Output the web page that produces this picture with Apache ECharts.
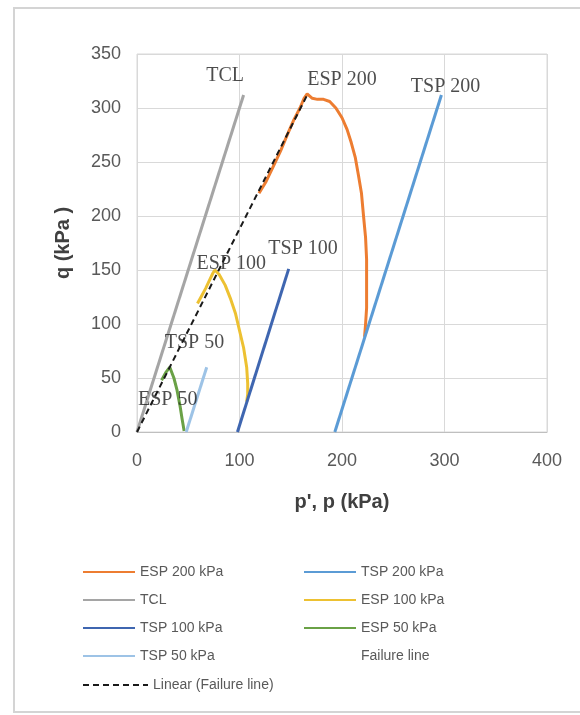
<!DOCTYPE html>
<html>
<head>
<meta charset="utf-8">
<script src="https://cdn.jsdelivr.net/npm/echarts@6/dist/echarts.min.js"></script>
<style>html,body{margin:0;padding:0;background:#fff;}#c{width:580px;height:715px;}</style>
</head>
<body>
<div id="c"></div>
<script>
// ---- data ----
var esp200 = [[119,221],[126,232],[133,246],[140,260],[147,276],[153,289],[159,300],[163,309],[166,313],[171,309],[176,308],[182,308],[188,306],[194,300],[200,291],[205,280],[209,268],[213,254],[216,238],[219,221],[221,200],[223,180],[224,160],[224,135],[224,115],[223,100],[222,88]];
var tsp200 = [[193,0],[297,312]];
var tcl = [[0,0],[104,312]];
var esp100 = [[59,119],[63,126],[67,133],[71,141],[74,147],[76,150],[80,146],[86,136],[91,124],[96,110],[100,94],[104,78],[107,60],[108,45],[108,35],[107,28]];
var tsp100 = [[98,0],[148,151]];
var esp50 = [[24,48],[28,55],[32,60],[36,50],[39,39],[42,24],[44,12],[46,1]];
var tsp50 = [[48,0],[68,60]];
var failurePts = [[32,60],[76,149],[166,313]];
var failureTrend = [[0,0],[166,312]];
var labelNames = ['TCL','ESP 200','TSP 200','TSP 100','ESP 100','TSP 50','ESP 50'];
var labelX = [86, 200, 301, 162, 92, 56, 30];
var labelY = [330, 326, 320, 170, 156, 83, 30];
var xTicks = {min:0, max:400, interval:100};
var yTicks = {min:0, max:350, interval:50};

var labelData = labelNames.map(function(n,i){return {name:n, value:[labelX[i], labelY[i]]};});

function lineSeries(name, data, color, width, type){
  return {name:name, type:'line', data:data, symbol:'none', smooth:false,
    lineStyle:{color:color, width:width, type:type||'solid'}, itemStyle:{color:color},
    emphasis:{disabled:true}, z: 3};
}

var chart = echarts.init(document.getElementById('c'));
var legendText = {fontFamily:'Liberation Sans', fontSize:14, color:'#595959', lineHeight:14};
var legendCommon = {orient:'vertical', itemWidth:52, itemHeight:14, itemGap:14, selectedMode:false,
  itemStyle:{opacity:0}, textStyle:legendText, padding:0};
chart.setOption({
  animation:false,
  backgroundColor:'#ffffff',
  graphic:[{type:'rect', shape:{x:14, y:8, width:570, height:704}, style:{fill:'none', stroke:'#d4d4d4', lineWidth:2}, silent:true}],
  grid:{left:137, right:33, top:54, bottom:283, show:true, borderColor:'#d9d9d9', borderWidth:1},
  xAxis:{type:'value', min:xTicks.min, max:xTicks.max, interval:xTicks.interval,
    name:"p', p (kPa)", nameLocation:'middle', nameGap:60,
    nameTextStyle:{fontFamily:'Liberation Sans', fontWeight:'bold', fontSize:20, color:'#404040'},
    axisLine:{lineStyle:{color:'#bfbfbf'}}, axisTick:{show:false},
    axisLabel:{fontFamily:'Liberation Sans', fontSize:18, color:'#595959', margin:20},
    splitLine:{lineStyle:{color:'#d9d9d9'}}},
  yAxis:{type:'value', min:yTicks.min, max:yTicks.max, interval:yTicks.interval,
    name:'q (kPa )', nameLocation:'middle', nameGap:64, nameRotate:90,
    nameTextStyle:{fontFamily:'Liberation Sans', fontWeight:'bold', fontSize:20, color:'#404040'},
    axisLine:{show:false}, axisTick:{show:false},
    axisLabel:{fontFamily:'Liberation Sans', fontSize:18, color:'#595959', margin:16},
    splitLine:{lineStyle:{color:'#d9d9d9'}}},
  legend:[
    Object.assign({}, legendCommon, {left:82, top:565,
      data:['ESP 200 kPa','TCL','TSP 100 kPa','TSP 50 kPa']}),
    Object.assign({}, legendCommon, {left:303, top:565,
      data:['TSP 200 kPa','ESP 100 kPa','ESP 50 kPa',{name:'Failure line', lineStyle:{opacity:0}}]}),
    Object.assign({}, legendCommon, {left:82, top:678, itemWidth:65,
      data:['Linear (Failure line)']})
  ],
  series:[
    lineSeries('ESP 200 kPa', esp200, '#ED7D31', 3),
    lineSeries('TSP 200 kPa', tsp200, '#5B9BD5', 3),
    lineSeries('TCL', tcl, '#A5A5A5', 3),
    lineSeries('ESP 100 kPa', esp100, '#EDC132', 3),
    lineSeries('TSP 100 kPa', tsp100, '#3F66B0', 3),
    lineSeries('ESP 50 kPa', esp50, '#6AA146', 3),
    lineSeries('TSP 50 kPa', tsp50, '#9DC3E6', 3),
    {name:'Failure line', type:'line', data:failurePts, symbol:'none', lineStyle:{width:0, opacity:0}, itemStyle:{opacity:0}},
    Object.assign(lineSeries('Linear (Failure line)', failureTrend, '#1a1a1a', 2, [6,4]), {z:4}),
    {name:'labels', type:'scatter', data:labelData, symbolSize:0, silent:true, z:5,
      label:{show:true, position:'inside', formatter:'{b}', fontFamily:'Liberation Serif', fontSize:20, color:'#1f1f1f'}}
  ]
});
</script>
</body>
</html>
